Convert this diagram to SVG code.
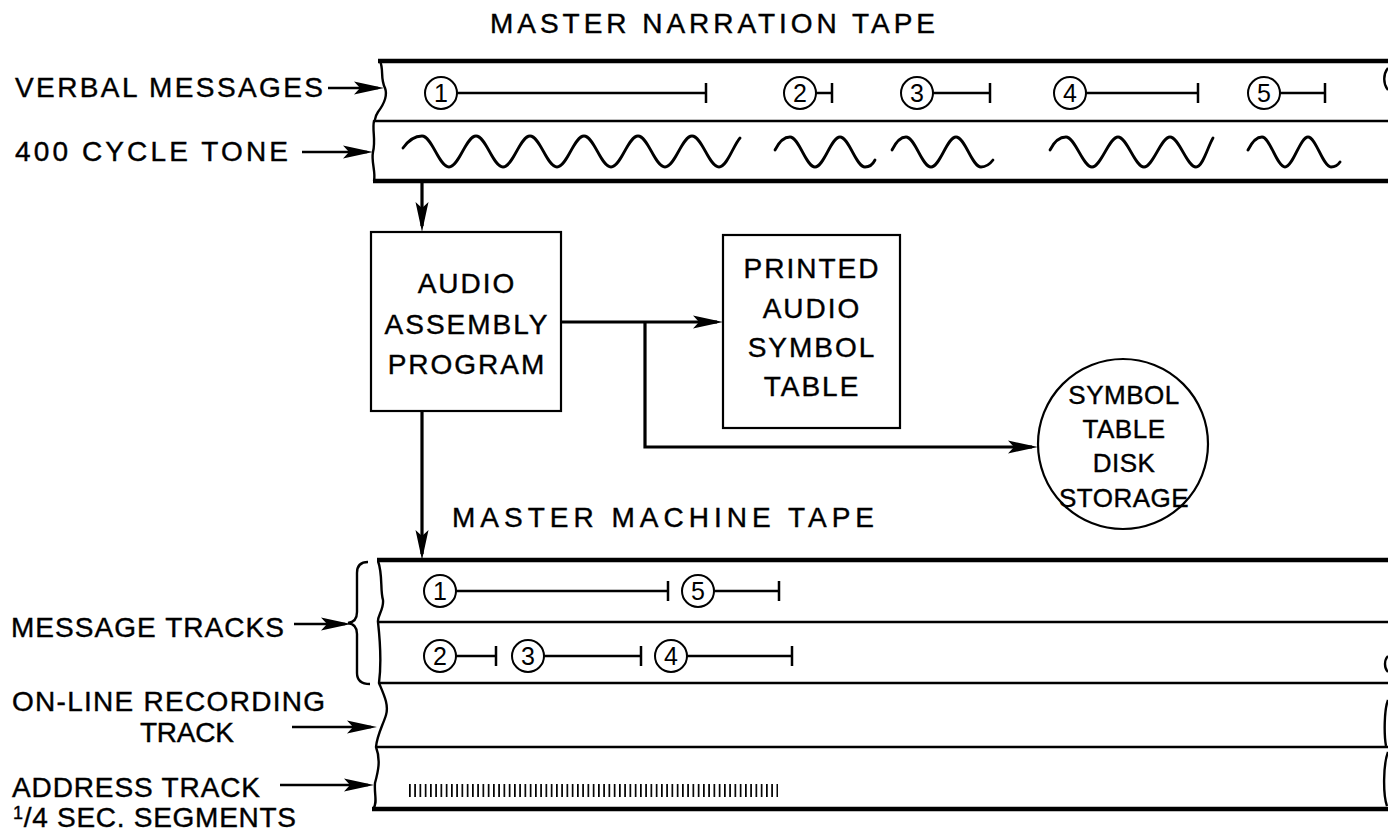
<svg xmlns="http://www.w3.org/2000/svg" width="1388" height="834" viewBox="0 0 1388 834">
<defs>
<style>
.t{font-family:"Liberation Sans",Arial,sans-serif;font-size:28px;fill:#000;stroke:#000;stroke-width:0.4}
.c{text-anchor:middle;letter-spacing:2px}
.cs{font-size:26px;text-anchor:middle;letter-spacing:0.5px}
.n{font-family:"Liberation Sans",Arial,sans-serif;font-size:25px;fill:#000;text-anchor:middle}
.ln{stroke:#000;fill:none;stroke-linecap:butt}
.tk{stroke-width:4.5}
.md{stroke-width:2.5}
.th{stroke-width:2.4}
.bx{fill:#fff;stroke:#000;stroke-width:2.2}
.wv{fill:none;stroke:#000;stroke-width:2.8;stroke-linecap:round}
.conn{fill:none;stroke:#000;stroke-width:3.2;marker-end:url(#ah)}
.lab{fill:none;stroke:#000;stroke-width:2.6;marker-end:url(#ah)}
.dot{fill:#fff;stroke:#000;stroke-width:2}
</style>
<marker id="ah" markerUnits="userSpaceOnUse" markerWidth="32" markerHeight="14" refX="24" refY="7" orient="auto">
<path d="M0,0.5 L30,7 L0,13.5 L6,7 Z" fill="#000"/>
</marker>
<pattern id="ticks" patternUnits="userSpaceOnUse" x="409" y="784" width="5.25" height="13">
<rect x="0" y="0" width="1.7" height="13" fill="#000"/>
</pattern>
</defs>
<rect width="1388" height="834" fill="#fff"/>

<g id="narration-tape">
<text class="t" x="490" y="33" textLength="445" lengthAdjust="spacing">MASTER NARRATION TAPE</text>
<path class="ln tk" d="M378,61 H1388"/>
<path class="ln md" d="M374,121 H1388"/>
<path class="ln tk" d="M373,181 H1388"/>
<path class="ln th" d="M380,61 C384,70 380,78 385,88 C388,96 384,104 378,112 C374,118 376,120 374,121 C372,130 376,140 373,152 C371,162 376,172 374,181"/>
<path class="ln th" d="M1388,68 C1383,74 1383,84 1388,90"/>
<g id="verbal-messages">
<path class="ln md" d="M457,93 H706 M706,83 V103 M815,93 H832 M832,83 V103 M933,93 H990 M990,83 V103 M1086,93 H1198 M1198,83 V103 M1280,93 H1325 M1325,83 V103"/>
<circle class="dot" cx="441" cy="93" r="16"/><text class="n" x="441" y="102">1</text>
<circle class="dot" cx="800" cy="93" r="16"/><text class="n" x="800" y="102">2</text>
<circle class="dot" cx="917" cy="93" r="16"/><text class="n" x="917" y="102">3</text>
<circle class="dot" cx="1070" cy="93" r="16"/><text class="n" x="1070" y="102">4</text>
<circle class="dot" cx="1264" cy="93" r="16"/><text class="n" x="1264" y="102">5</text>
</g>
<g id="cycle-tone">
<path class="wv" d="M403,148 C408,141 414,136 422,136 C432,136 439,167 449,167 C459,167 466,136 476,136 C486,136 493,167 503,167 C513,167 520,136 530,136 C540,136 547,167 557,167 C567,167 574,136 584,136 C594,136 601,167 611,167 C621,167 628,136 638,136 C648,136 655,167 665,167 C675,167 682,136 692,136 C702,136 709,167 719,167 C727,167 733,146 740,138"/>
<path class="wv" d="M775,150 C779,142 784,137 790,137 C799,137 806,167 815,167 C824,167 831,137 840,137 C849,137 856,167 865,167 C870,167 873,164 875,160"/>
<path class="wv" d="M892,150 C896,142 900,137 906,137 C915,137 922,167 931,167 C940,167 947,137 956,137 C965,137 972,167 981,167 C986,167 990,164 993,160"/>
<path class="wv" d="M1050,150 C1054,142 1060,137 1066,137 C1075,137 1083,167 1092,167 C1101,167 1109,137 1118,137 C1127,137 1135,167 1144,167 C1153,167 1161,137 1170,137 C1179,137 1187,167 1196,167 C1203,167 1208,146 1213,138"/>
<path class="wv" d="M1248,150 C1252,142 1256,137 1262,137 C1270,137 1277,167 1285,167 C1293,167 1300,137 1308,137 C1316,137 1323,167 1331,167 C1335,167 1338,165 1340,162"/>
</g>
</g>

<g id="label-verbal"><text class="t" x="15" y="97" textLength="308" lengthAdjust="spacing">VERBAL MESSAGES</text></g>
<g id="label-tone"><text class="t" x="15" y="161" textLength="273" lengthAdjust="spacing">400 CYCLE TONE</text></g>

<g id="audio-assembly-program">
<rect class="bx" x="371" y="232" width="190" height="179"/>
<text class="t c" x="467" y="293">AUDIO</text>
<text class="t c" x="467" y="334">ASSEMBLY</text>
<text class="t c" x="467" y="374">PROGRAM</text>
</g>

<g id="printed-symbol-table">
<rect class="bx" x="723" y="235" width="177" height="193"/>
<text class="t c" x="812" y="278">PRINTED</text>
<text class="t c" x="812" y="318">AUDIO</text>
<text class="t c" x="812" y="357">SYMBOL</text>
<text class="t c" x="812" y="396">TABLE</text>
</g>

<g id="symbol-disk-storage">
<circle class="bx" cx="1123" cy="444" r="85"/>
<text class="t cs" x="1124" y="404">SYMBOL</text>
<text class="t cs" x="1124" y="438">TABLE</text>
<text class="t cs" x="1124" y="472">DISK</text>
<text class="t cs" x="1124" y="507">STORAGE</text>
</g>

<g id="machine-tape">
<text class="t" x="452" y="527" textLength="422" lengthAdjust="spacing">MASTER MACHINE TAPE</text>
<path class="ln tk" d="M377,560 H1388"/>
<path class="ln md" d="M378,622 H1388"/>
<path class="ln md" d="M379,683 H1388"/>
<path class="ln md" d="M376,747 H1388"/>
<path class="ln tk" d="M372,809 H1388"/>
<path class="ln th" d="M378,561 C383,575 380,590 383,600 C384,610 377,616 378,622 C380,640 382,660 379,683 C384,695 389,705 386,715 C383,725 377,735 376,747 C381,760 378,772 375,783 C374,795 378,803 373,809"/>
<path class="ln th" d="M1388,656 C1384,660 1384,668 1388,672 M1388,700 C1384,710 1384,735 1386,746 M1388,752 C1383,765 1383,795 1387,806"/>
<path class="ln th" d="M368,562 Q357,562 357,573 L357,612 Q357,622 348,623 Q357,624 357,634 L357,673 Q357,684 370,684"/>
<g id="message-tracks">
<path class="ln md" d="M456,591 H668 M668,581 V601 M714,591 H779 M779,581 V601 M456,656 H496 M496,646 V666 M544,656 H641 M641,646 V666 M687,656 H792 M792,646 V666"/>
<circle class="dot" cx="440" cy="591" r="16"/><text class="n" x="440" y="600">1</text>
<circle class="dot" cx="698" cy="591" r="16"/><text class="n" x="698" y="600">5</text>
<circle class="dot" cx="440" cy="656" r="16"/><text class="n" x="440" y="665">2</text>
<circle class="dot" cx="528" cy="656" r="16"/><text class="n" x="528" y="665">3</text>
<circle class="dot" cx="671" cy="656" r="16"/><text class="n" x="671" y="665">4</text>
</g>
<rect id="address-marks" x="409" y="784" width="369" height="13" fill="url(#ticks)"/>
</g>

<g id="label-message-tracks"><text class="t" x="11" y="637" textLength="273" lengthAdjust="spacing">MESSAGE TRACKS</text></g>
<g id="label-online">
<text class="t" x="12" y="711" textLength="313" lengthAdjust="spacing">ON-LINE RECORDING</text>
<text class="t" x="140" y="742" textLength="94" lengthAdjust="spacing">TRACK</text>
</g>
<g id="label-address">
<text class="t" x="12" y="797" textLength="248" lengthAdjust="spacing">ADDRESS TRACK</text>
<text class="t" x="13" y="827" textLength="283" lengthAdjust="spacing"><tspan font-size="18" dy="-8">1</tspan><tspan dy="8">/4 SEC. SEGMENTS</tspan></text>
</g>

<g id="connectors">
<path class="lab" d="M328,88 H378"/>
<path class="lab" d="M302,152 H367"/>
<path class="lab" d="M294,624 H345"/>
<path class="lab" d="M292,727 H371"/>
<path class="lab" d="M280,785 H368"/>
<path class="conn" d="M422,183 V226"/>
<path class="conn" d="M422,411 V554"/>
<path class="conn" d="M561,322 H717"/>
<path class="conn" d="M645,322 V447 H1032"/>
</g>
</svg>
